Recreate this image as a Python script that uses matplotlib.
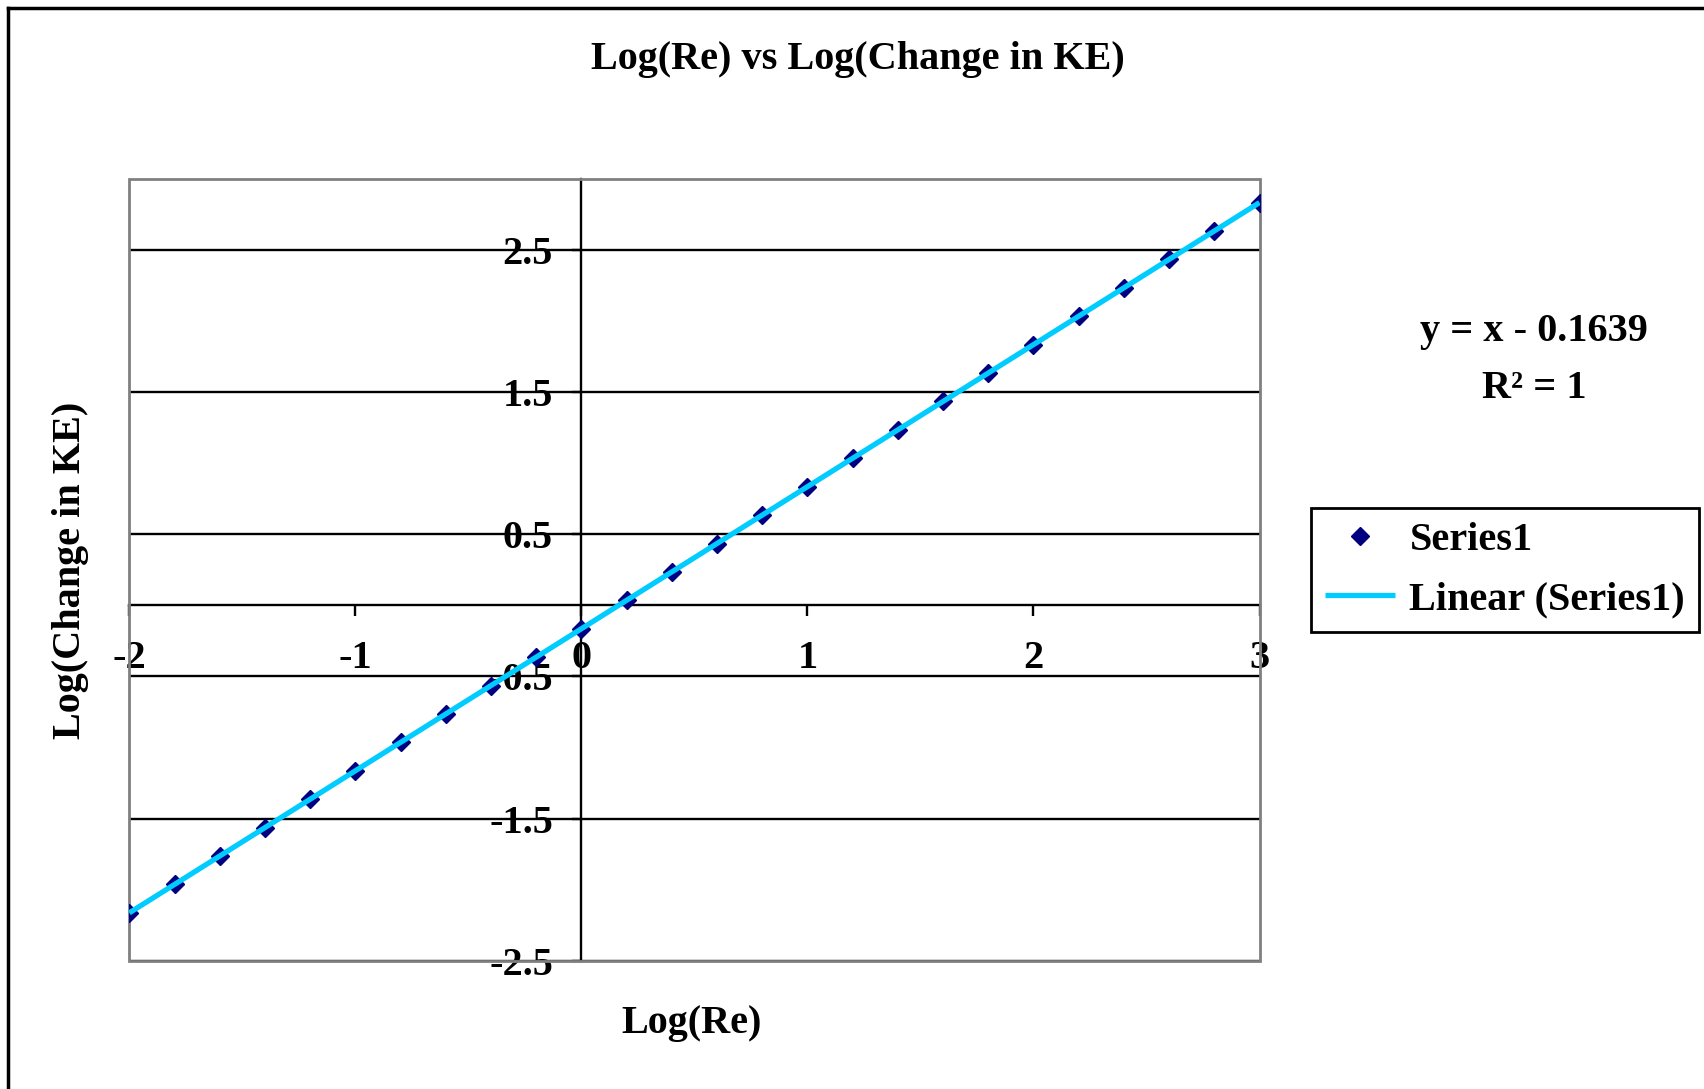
import numpy as np
import matplotlib.pyplot as plt
from matplotlib.lines import Line2D
from matplotlib.patches import Rectangle

# data
log_re = [-2.0, -1.8, -1.6, -1.4, -1.2, -1.0, -0.8, -0.6, -0.4, -0.2,
          0.0, 0.2, 0.4, 0.6, 0.8, 1.0, 1.2, 1.4, 1.6, 1.8,
          2.0, 2.2, 2.4, 2.6, 2.8, 3.0]
log_dke = [-2.1639, -1.9639, -1.7639, -1.5639, -1.3639, -1.1639, -0.9639, -0.7639, -0.5639, -0.3639,
           -0.1639, 0.0361, 0.2361, 0.4361, 0.6361, 0.8361, 1.0361, 1.2361, 1.4361, 1.6361,
           1.8361, 2.0361, 2.2361, 2.4361, 2.6361, 2.8361]
x_ticks = [-2, -1, 0, 1, 2, 3]
y_ticks = [-2.5, -1.5, -0.5, 0.5, 1.5, 2.5]

plt.rcParams['font.family'] = 'Liberation Serif'
plt.rcParams['font.weight'] = 'bold'
plt.rcParams['axes.unicode_minus'] = False
FS = 29

W, H = 1704, 1089
fig = plt.figure(figsize=(W / 100, H / 100), dpi=100)

def fx(px):
    return px / W

def fy(py):
    return 1 - py / H

ax = fig.add_axes([fx(129.3), fy(960.6), fx(1259.5) - fx(129.3), fy(179.3) - fy(960.6)])
ax.set_xlim(-2, 3)
ax.set_ylim(-2.5, 3)

# linear trend
coef = np.polyfit(log_re, log_dke, 1)
xt = np.array([min(log_re), max(log_re)])
ax.plot(log_re, log_dke, 'D', color='#000080', ms=9.5, zorder=3, label='Series1')
ax.plot(xt, np.polyval(coef, xt), '-', color='#00CCFF', lw=3.8, zorder=4,
        solid_capstyle='butt', label='Linear (Series1)')

# axes crossing at zero, Excel style
for s in ['top', 'right']:
    ax.spines[s].set_visible(False)
ax.spines['left'].set_position(('data', 0))
ax.spines['bottom'].set_position(('data', 0))
for s in ['left', 'bottom']:
    ax.spines[s].set_color('black')
    ax.spines[s].set_linewidth(1.7)
    ax.spines[s].set_zorder(2)
ax.add_patch(Rectangle((0, 0), 1, 1, transform=ax.transAxes, fill=False,
                       edgecolor='#808080', lw=2, zorder=2.5, clip_on=False))

ax.set_xticks(x_ticks)
ax.set_xticklabels([str(v) for v in x_ticks])
ax.set_yticks(y_ticks)
ax.set_yticklabels([str(v) for v in y_ticks])
ax.yaxis.grid(True, color='black', lw=1.7)
ax.set_axisbelow(True)
ax.tick_params(axis='x', direction='out', length=8, width=1.7, pad=17, labelsize=FS)
ax.tick_params(axis='y', direction='out', length=6.5, width=1.7, pad=14, labelsize=FS)
for lbl in ax.get_yticklabels():
    lbl.set_va('center_baseline')

fig.text(fx(858), fy(60), 'Log(Re) vs Log(Change in KE)', ha='center', va='center',
         fontsize=FS, fontweight='bold')
fig.text(fx(692), fy(1024), 'Log(Re)', ha='center', va='center', fontsize=FS, fontweight='bold')
fig.text(fx(71), fy(570), 'Log(Change in KE)', ha='center', va='center', rotation=90,
         fontsize=FS, fontweight='bold')
fig.text(fx(1534), fy(331), 'y = x - 0.1639', ha='center', va='center', fontsize=FS, fontweight='bold')
fig.text(fx(1534), fy(389), 'R² = 1', ha='center', va='center', fontsize=FS, fontweight='bold')

leg = fig.legend(loc='center', bbox_to_anchor=(fx(1505), fy(570)), fontsize=FS,
                 frameon=True, fancybox=False, framealpha=1, edgecolor='black',
                 handlelength=1.75, handletextpad=0.35, labelspacing=0.55,
                 borderpad=0.35, borderaxespad=0)
leg.get_frame().set_linewidth(2)

# outer chart border (left and top only visible)
fig.add_artist(Line2D([fx(8), fx(8)], [0, fy(8)], color='black', lw=2.5))
fig.add_artist(Line2D([fx(8), 1], [fy(8), fy(8)], color='black', lw=2.5))

fig.savefig('out.png', dpi=100, facecolor='white')
